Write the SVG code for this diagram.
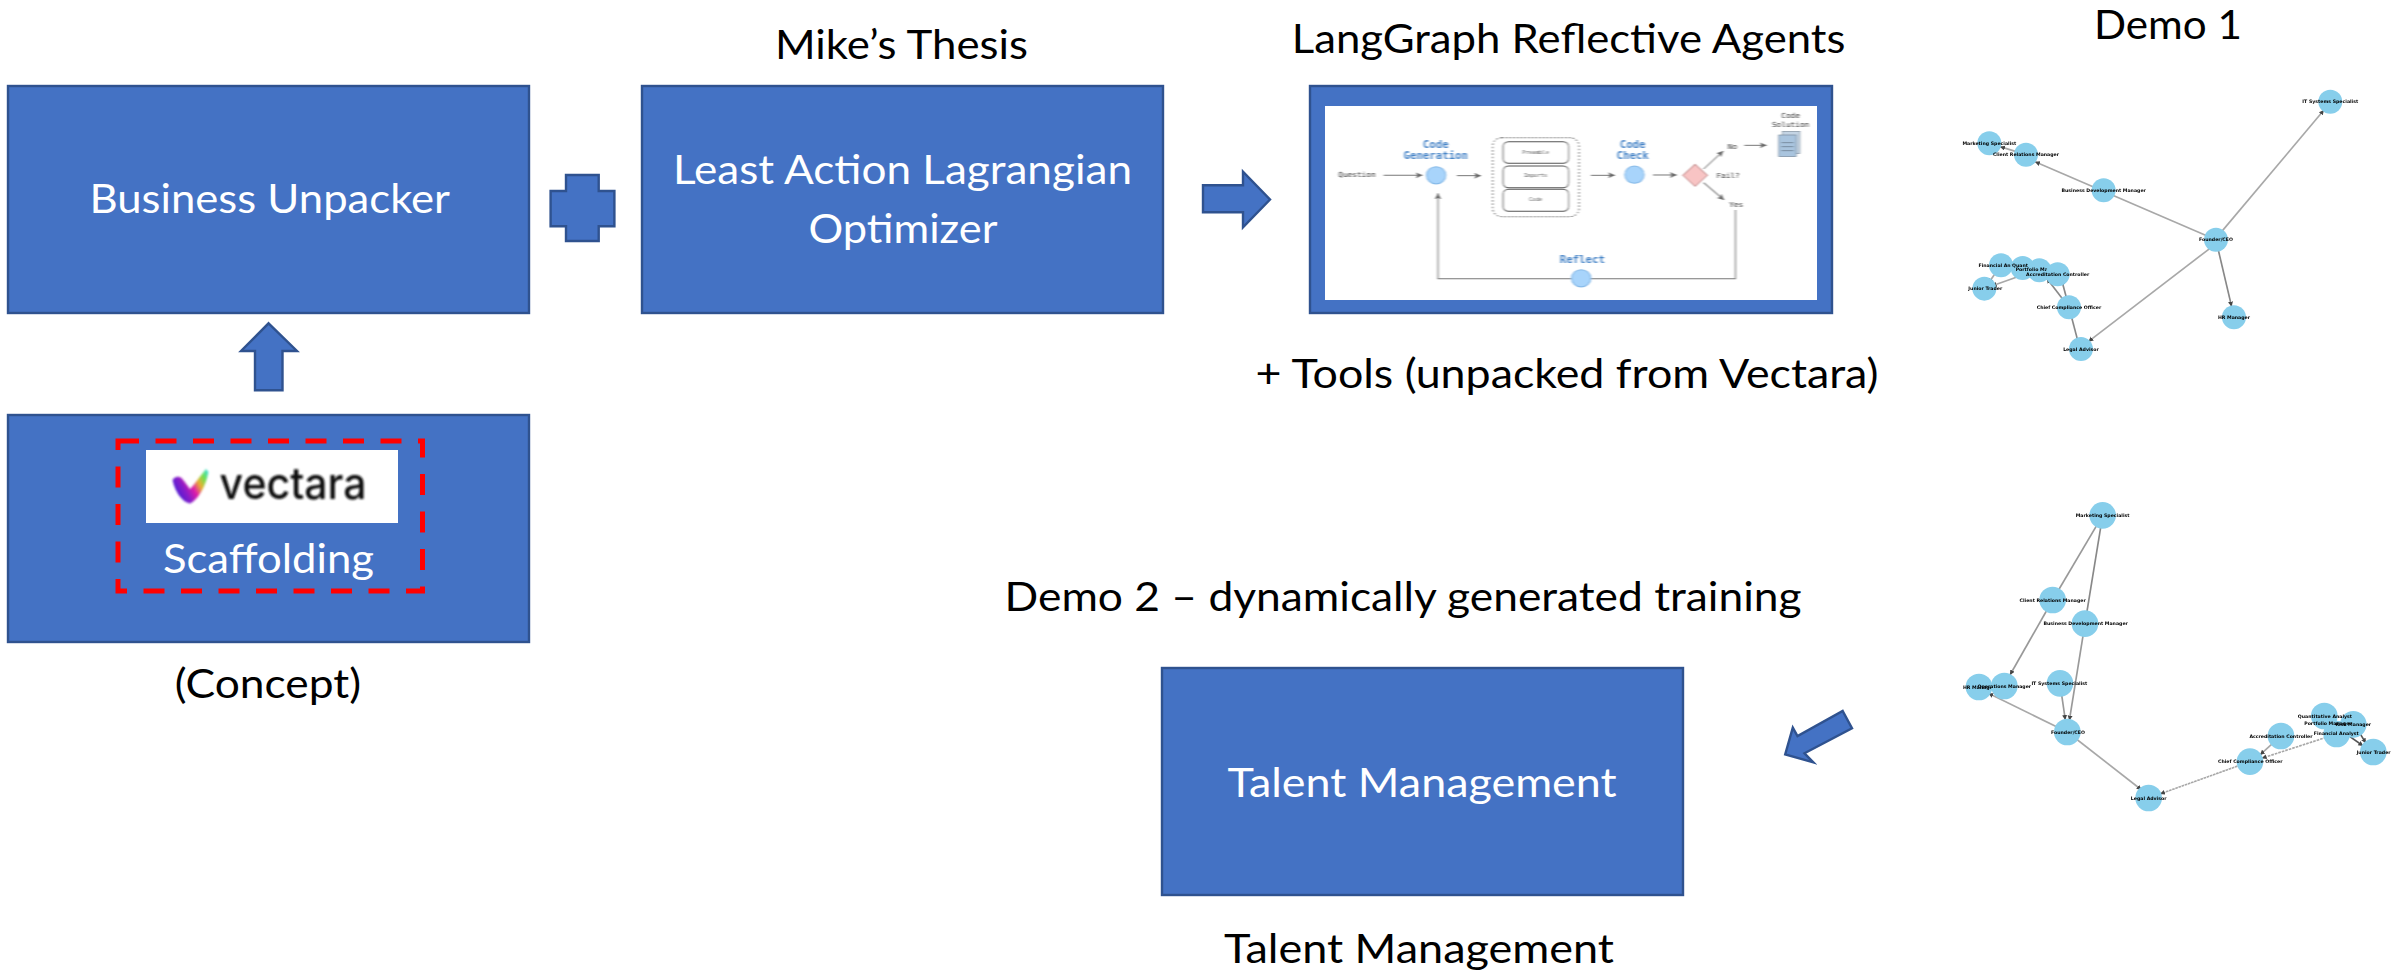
<svg xmlns="http://www.w3.org/2000/svg" width="2407" height="972" viewBox="0 0 2407 972">
<style>
.box{fill:#4472C4;stroke:#2F528F;stroke-width:2.4}
.t{font-family:Lato,"Open Sans",sans-serif;font-size:41px}
.w{fill:#fff}
.k{fill:#000}
.n circle{fill:#87CEEB}
.n text{font-family:"DejaVu Sans",sans-serif;font-size:14px;font-weight:bold;fill:#000;text-anchor:middle}
.e line{stroke:#a8a8a8;stroke-width:5;marker-end:url(#gh)}
.m{font-family:"DejaVu Sans Mono",monospace;fill:#333;text-anchor:middle;font-size:21px}
.b{font-family:"DejaVu Sans Mono",monospace;fill:#4a86c8;text-anchor:middle;font-size:29px;font-weight:bold}
.c{fill:#a8d4fb;stroke:#7fb5e6;stroke-width:3}
.a{fill:none;stroke:#777;stroke-width:3;marker-end:url(#ah)}
.s{fill:#fff;stroke:#555;stroke-width:3}
.ss{font-family:"DejaVu Sans Mono",monospace;fill:#444;text-anchor:middle;font-size:15px}
</style>
<defs>
<filter id="bl" x="-5%" y="-5%" width="110%" height="110%"><feGaussianBlur stdDeviation="2.3"/></filter>
<filter id="bl2" x="-5%" y="-20%" width="110%" height="140%"><feGaussianBlur stdDeviation="1.1"/></filter>
<marker id="ah" markerWidth="7" markerHeight="7" refX="6" refY="3" orient="auto"><path d="M0 0L6 3L0 6L1.5 3Z" fill="#666"/></marker>
<marker id="gh" markerWidth="4" markerHeight="4" refX="3" refY="1.5" orient="auto"><path d="M0 0L3 1.5L0 3Z" fill="#444"/></marker>
<linearGradient id="vg" gradientUnits="userSpaceOnUse" x1="172" y1="492" x2="208" y2="472">
<stop offset="0" stop-color="#3a22d8"/><stop offset=".3" stop-color="#8a1cc8"/><stop offset=".5" stop-color="#e01fa8"/><stop offset=".68" stop-color="#e8b030"/><stop offset=".85" stop-color="#70e050"/><stop offset="1" stop-color="#40e0d0"/>
</linearGradient>
</defs>

<g id="connectors">
<path id="arrow-up" class="box" d="M268.6 323.3L297 351H282.5V390.3H255V351H241Z"/>
<path id="plus" class="box" d="M566 175H598.7V191H614.4V226.3H598.7V241H566V226.3H550.6V191H566Z"/>
<path id="arrow-right" class="box" d="M1203 185.3H1243V171.7L1270 199.5L1243 227.3V212.3H1203Z"/>
<path id="arrow-diag" class="box" d="M1842.7 711L1852 728.3L1804.5 753.3L1813.3 762.3L1785.2 754.3L1792.8 727.7L1797.5 736Z"/>
</g>

<g id="business-unpacker">
<rect class="box" x="8" y="86" width="521" height="227"/>
<text class="t w" x="89.5" y="213.3" textLength="360.5" lengthAdjust="spacingAndGlyphs">Business Unpacker</text>
</g>

<g id="scaffolding">
<rect class="box" x="8" y="415" width="521" height="227"/>
<rect x="146" y="450" width="252" height="73" fill="#fff"/>
<g id="vectara-logo">
<path d="M172.5 480C176 475 181 476 184 481L190 489C195 484 200 476 206 469L208.5 472C206 486 198 500 190 503.5C182 502 175 492 172.5 480Z" fill="url(#vg)" filter="url(#bl2)"/>
<text x="219.6" y="499.3" textLength="147" lengthAdjust="spacingAndGlyphs" font-family="Inter,sans-serif" font-size="44" font-weight="500" fill="#111" filter="url(#bl2)">vectara</text>
</g>
<path d="M118 441H422.5V591H118Z" fill="none" stroke="#f00" stroke-width="5" stroke-dasharray="21 16.5"/>
<text class="t w" x="163" y="572.7" textLength="211" lengthAdjust="spacingAndGlyphs">Scaffolding</text>
</g>
<text id="concept-label" class="t k" x="174.7" y="698" textLength="186.3" lengthAdjust="spacingAndGlyphs">(Concept)</text>

<g id="least-action">
<rect class="box" x="642" y="86" width="521" height="227"/>
<text class="t w" x="673" y="184.3" textLength="459" lengthAdjust="spacingAndGlyphs">Least Action Lagrangian</text>
<text class="t w" x="808.5" y="243" textLength="189" lengthAdjust="spacingAndGlyphs">Optimizer</text>
</g>
<text id="mike-label" class="t k" x="775" y="59" textLength="253" lengthAdjust="spacingAndGlyphs">Mike’s Thesis</text>

<g id="langgraph">
<rect class="box" x="1310" y="86" width="522" height="227"/>
<rect x="1325" y="106" width="492" height="194" fill="#fff"/>
<g transform="translate(1280 70) scale(.37 .3333)" filter="url(#bl)">
<text class="m" x="208" y="322">Question</text>
<path class="a" d="M280 316H385"/>
<circle class="c" cx="422" cy="316" r="26"/>
<text class="b" x="421" y="234">Code</text>
<text class="b" x="421" y="267">Generation</text>
<path class="a" d="M478 317H543"/>
<rect x="575" y="203" width="233" height="237" rx="25" fill="#fff" stroke="#555" stroke-width="3" stroke-dasharray="5 5"/>
<rect class="s" x="603" y="215" width="177" height="65" rx="14"/>
<rect class="s" x="603" y="288" width="177" height="65" rx="14"/>
<rect class="s" x="603" y="358" width="177" height="66" rx="14"/>
<text class="ss" x="691" y="253">Preamble</text>
<text class="ss" x="691" y="322">Imports</text>
<text class="ss" x="691" y="394">Code</text>
<path class="a" d="M840 316H905"/>
<text class="b" x="953" y="233">Code</text>
<text class="b" x="953" y="267">Check</text>
<circle class="c" cx="958" cy="314" r="26"/>
<path class="a" d="M1008 315H1072"/>
<path d="M1122 283L1155 316L1122 349L1089 316Z" fill="#f8c4c4" stroke="#c99" stroke-width="3"/>
<text class="m" x="1211" y="324">Fail?</text>
<path class="a" d="M1145 297L1198 243"/>
<text class="m" x="1223" y="237">No</text>
<path class="a" d="M1255 226H1315"/>
<path class="a" d="M1145 338L1200 390"/>
<text class="m" x="1233" y="410">Yes</text>
<text class="m" x="1380" y="144">Code</text>
<text class="m" x="1380" y="170">Solution</text>
<rect x="1358" y="185" width="47" height="65" fill="#c4d4e4" stroke="#789" stroke-width="2"/>
<rect x="1348" y="195" width="47" height="65" fill="#a9c4de" stroke="#789" stroke-width="2"/>
<path d="M1355 218H1388M1355 230H1388M1355 242H1388" stroke="#678" stroke-width="2"/>
<path class="a" d="M1231 420V626H427V370"/>
<circle class="c" cx="814" cy="625" r="26"/>
<text class="b" x="817" y="579">Reflect</text>
</g>
</g>
<text id="langgraph-label" class="t k" x="1291.8" y="53.3" textLength="553.6" lengthAdjust="spacingAndGlyphs">LangGraph Reflective Agents</text>
<text id="tools-label" class="t k" x="1255.5" y="387.7" textLength="623" lengthAdjust="spacingAndGlyphs">+ Tools (unpacked from Vectara)</text>

<text id="demo1-label" class="t k" x="2094" y="39" textLength="148" lengthAdjust="spacingAndGlyphs">Demo 1</text>
<g id="demo1-graph" transform="translate(1920 0) scale(.3333)" filter="url(#bl)">
<g class="e">
<line x1="905" y1="695" x2="1212" y2="330"/>
<line x1="888" y1="719" x2="345" y2="485"/>
<line x1="318" y1="464" x2="240" y2="440"/>
<line x1="870" y1="745" x2="505" y2="1025"/>
<line x1="895" y1="750" x2="935" y2="920" style="stroke:#888"/>
<line x1="447" y1="922" x2="478" y2="1040" style="stroke:#888"/>
<line x1="447" y1="922" x2="380" y2="835" style="stroke:#888"/>
<line x1="447" y1="922" x2="425" y2="840" style="stroke:#888"/>
<line x1="243" y1="796" x2="205" y2="850"/>
<line x1="308" y1="825" x2="215" y2="858"/>
</g>
<g id="d1-fa" class="n"><circle cx="243" cy="796" r="36"/><text x="243" y="800">Financial Analyst</text></g>
<g id="d1-qa" class="n"><circle cx="308" cy="804" r="36"/><text x="300" y="800">Quant</text></g>
<g id="d1-pm" class="n"><circle cx="358" cy="811" r="36"/><text x="358" y="812">Portfolio Manager</text></g>
<g id="d1-ac" class="n"><circle cx="413" cy="823" r="36"/><text x="413" y="828">Accreditation Controller</text></g>
<g id="d1-it" class="n"><circle cx="1231" cy="305" r="36"/><text x="1231" y="310">IT Systems Specialist</text></g>
<g id="d1-mk" class="n"><circle cx="208" cy="430" r="36"/><text x="208" y="435">Marketing Specialist</text></g>
<g id="d1-cr" class="n"><circle cx="318" cy="464" r="36"/><text x="318" y="469">Client Relations Manager</text></g>
<g id="d1-bd" class="n"><circle cx="551" cy="571" r="36"/><text x="551" y="576">Business Development Manager</text></g>
<g id="d1-ceo" class="n"><circle cx="888" cy="719" r="36"/><text x="888" y="724">Founder/CEO</text></g>
<g id="d1-hr" class="n"><circle cx="942" cy="952" r="36"/><text x="942" y="957">HR Manager</text></g>
<g id="d1-cc" class="n"><circle cx="447" cy="922" r="36"/><text x="447" y="927">Chief Compliance Officer</text></g>
<g id="d1-la" class="n"><circle cx="483" cy="1047" r="36"/><text x="483" y="1052">Legal Advisor</text></g>
<g id="d1-jt" class="n"><circle cx="193" cy="866" r="36"/><text x="196" y="871">Junior Trader</text></g>
</g>

<g id="demo2-graph" transform="translate(1920 480) scale(.3333)" filter="url(#bl)">
<g class="e">
<line x1="548" y1="106" x2="398" y2="360" style="stroke:#999"/>
<line x1="548" y1="106" x2="495" y2="431" style="stroke:#888"/>
<line x1="398" y1="360" x2="270" y2="585" style="stroke:#999"/>
<line x1="495" y1="431" x2="448" y2="722" style="stroke:#999"/>
<line x1="420" y1="610" x2="436" y2="720" style="stroke:#999"/>
<line x1="442" y1="756" x2="205" y2="640"/>
<line x1="442" y1="756" x2="665" y2="930"/>
<line x1="990" y1="845" x2="720" y2="942" style="stroke-dasharray:8 2"/>
<line x1="1083" y1="768" x2="1020" y2="825"/>
<line x1="1250" y1="762" x2="1025" y2="835" style="stroke-dasharray:8 3"/>
<line x1="1290" y1="770" x2="1330" y2="798" style="stroke:#555"/>
<line x1="1320" y1="760" x2="1338" y2="790" style="stroke:#555"/>
</g>
<g id="d2-mk" class="n"><circle cx="548" cy="106" r="40"/><text x="548" y="111">Marketing Specialist</text></g>
<g id="d2-cr" class="n"><circle cx="398" cy="360" r="40"/><text x="398" y="365">Client Relations Manager</text></g>
<g id="d2-bd" class="n"><circle cx="495" cy="431" r="40"/><text x="497" y="436">Business Development Manager</text></g>
<g id="d2-hr" class="n"><circle cx="177" cy="621" r="40"/><text x="177" y="626">HR Manager</text></g>
<g id="d2-om" class="n"><circle cx="253" cy="618" r="40"/><text x="253" y="623">Operations Manager</text></g>
<g id="d2-it" class="n"><circle cx="420" cy="610" r="40"/><text x="418" y="615">IT Systems Specialist</text></g>
<g id="d2-ceo" class="n"><circle cx="442" cy="756" r="40"/><text x="444" y="761">Founder/CEO</text></g>
<g id="d2-la" class="n"><circle cx="686" cy="954" r="40"/><text x="686" y="959">Legal Advisor</text></g>
<g id="d2-cc" class="n"><circle cx="990" cy="845" r="40"/><text x="991" y="850">Chief Compliance Officer</text></g>
<g id="d2-ac" class="n"><circle cx="1083" cy="768" r="40"/><text x="1083" y="773">Accreditation Controller</text></g>
<g id="d2-fa" class="n"><circle cx="1250" cy="762" r="40"/></g>
<g id="d2-qa" class="n"><circle cx="1213" cy="708" r="40"/></g>
<g id="d2-rm" class="n"><circle cx="1300" cy="733" r="40"/></g>
<g id="d2-jt" class="n"><circle cx="1360" cy="816" r="40"/><text x="1361" y="821">Junior Trader</text></g>
<g class="n"><text x="1215" y="713">Quantitative Analyst</text><text x="1224" y="735">Portfolio Manager</text><text x="1300" y="738">Risk Manager</text><text x="1249" y="765">Financial Analyst</text></g>
</g>

<text id="demo2-label" class="t k" x="1004.6" y="611" textLength="797" lengthAdjust="spacingAndGlyphs">Demo 2 – dynamically generated training</text>
<g id="talent-management">
<rect class="box" x="1162" y="668" width="521" height="227"/>
<text class="t w" x="1227.6" y="797.3" textLength="389" lengthAdjust="spacingAndGlyphs">Talent Management</text>
</g>
<text id="talent-label" class="t k" x="1224" y="963" textLength="390" lengthAdjust="spacingAndGlyphs">Talent Management</text>
</svg>
